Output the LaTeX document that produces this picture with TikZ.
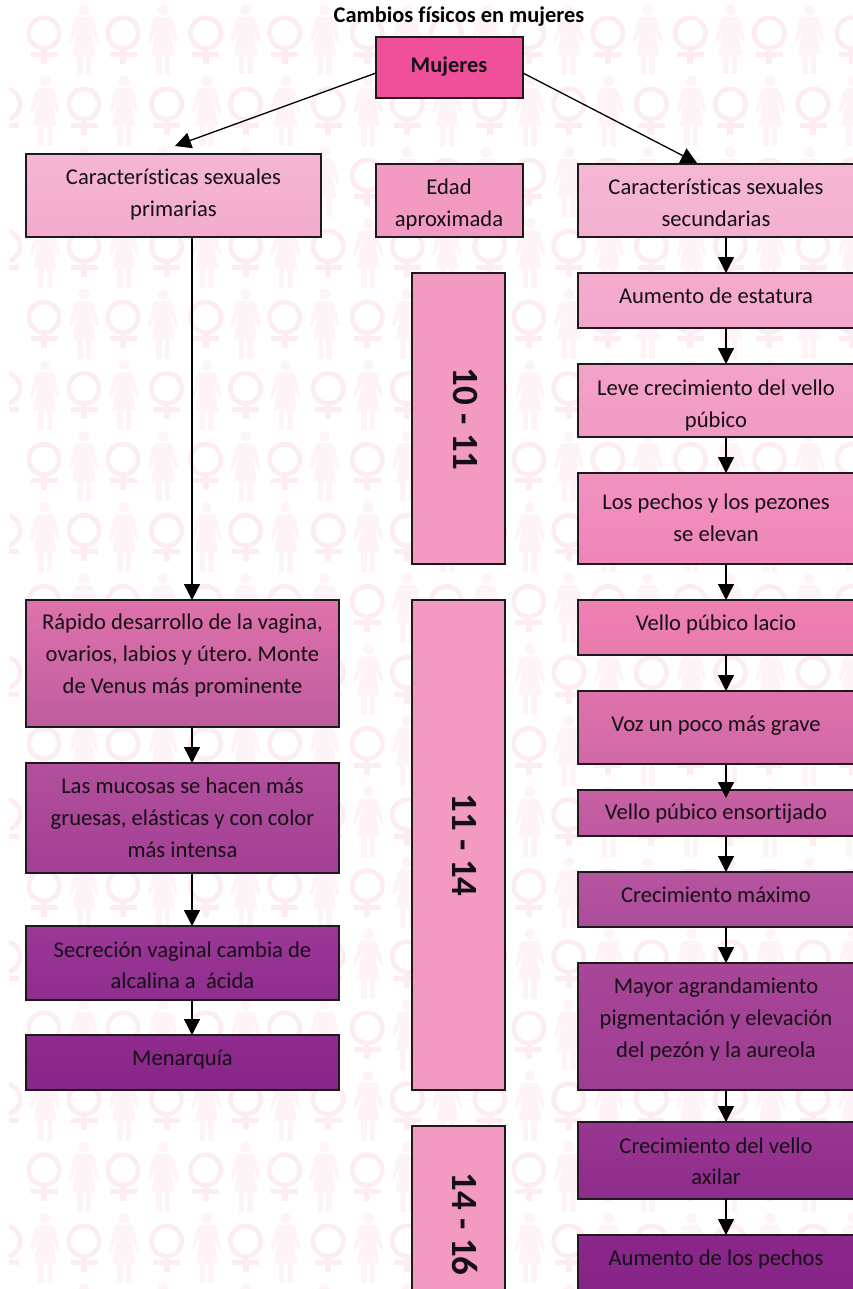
\documentclass[tikz,border=0pt]{standalone}
\usepackage{fontspec}
\setmainfont[Ligatures=NoCommon]{Carlito}
\usetikzlibrary{arrows.meta}
\definecolor{bgmark}{HTML}{FDECF1}
\definecolor{bgwoman}{HTML}{FEF3F6}
\definecolor{ink}{HTML}{151015}
\definecolor{edge}{HTML}{1C1A1C}
\definecolor{age}{HTML}{F29AC2}
\definecolor{c1}{HTML}{F0509A}
\newcommand{\venusmark}[2]{%
  \draw[bgmark,line width=4.6pt] (#1,#2) circle[radius=15.2pt];
  \fill[bgmark] (#1-3,#2+17) rectangle (#1+3,#2+31);
  \fill[bgmark] (#1-13.5,#2+19) rectangle (#1+13.5,#2+24);
}
\newcommand{\womanmark}[2]{%
  \fill[bgwoman] (#1,#2+10) circle[radius=5.4pt];
  \fill[bgwoman] (#1-7,#2+17) -- (#1+7,#2+17) -- (#1+10,#2+20) -- (#1+15,#2+41) -- (#1+12.5,#2+42) -- (#1+7,#2+29) -- (#1+11.5,#2+55) -- (#1-11.5,#2+55) -- (#1-7,#2+29) -- (#1-12.5,#2+42) -- (#1-15,#2+41) -- (#1-10,#2+20) -- cycle;
  \fill[bgwoman] (#1-7,#2+54) rectangle (#1-1.5,#2+75);
  \fill[bgwoman] (#1+1.5,#2+54) rectangle (#1+7,#2+75);
}
% name, x0, y0, x1, y1, top colour, bottom colour, text cx, text cy, text
\newcommand{\bx}[9]{%
  \definecolor{bxtop}{HTML}{#6}\definecolor{bxbot}{HTML}{#7}%
  \node[boxshape,top color=bxtop,bottom color=bxbot,minimum width={#4-#2},minimum height={#5-#3}] (#1) at ({(#2+#4)/2},{(#3+#5)/2}) {};
  \node[boxtext] (#1-t) at (#8,#9+1.5)
}
% name, x0, y0, x1, y1, text centre y, text
\newcommand{\agebox}[6]{%
  \node[boxshape,fill=age,minimum width={#4-#2},minimum height={#5-#3}] (#1) at ({(#2+#4)/2},{(#3+#5)/2}) {};
  \node[agetext] (#1-t) at (465,#6)
}
\tikzset{
  boxshape/.style={draw=edge,line width=1.2pt,inner sep=0pt,outer sep=0pt,shape=rectangle},
  boxtext/.style={inner sep=0pt,align=center,text=ink,font=\fontsize{22.6}{31.7}\selectfont\frenchspacing,execute at begin node=\strut,execute at end node=\strut},
  agetext/.style={inner sep=0pt,rotate=-90,text=ink,font=\fontsize{37}{40}\selectfont\bfseries},
  titletext/.style={inner sep=0pt,text=black,font=\fontsize{22.4}{25}\selectfont\bfseries},
  link/.style={draw=black,line width=1.3pt,-{Triangle[length=16pt,width=16pt]}},
}
\begin{document}
\begin{tikzpicture}[x=1pt,y=-1pt]
\useasboundingbox (0,0) rectangle (853,1289);
\fill[white] (0,0) rectangle (853,1289);
\begin{scope}
\clip (9,0) rectangle (853,1289);
\foreach \r in {0,2,...,18}{
  \pgfmathsetmacro{\yy}{71.06*\r}
  \foreach \k in {0,...,5}{
    \pgfmathsetmacro{\xa}{44+161.6*\k}\pgfmathsetmacro{\xb}{123+161.6*\k}
    \pgfmathsetmacro{\xc}{84+161.6*\k}\pgfmathsetmacro{\xd}{163+161.6*\k}
    \venusmark{\xa}{\yy+33}\venusmark{\xb}{\yy+33}
    \womanmark{\xc}{\yy}\womanmark{\xd}{\yy}
  }
}
\foreach \r in {1,3,...,17}{
  \pgfmathsetmacro{\yy}{71.06*\r}
  \foreach \k in {0,...,5}{
    \pgfmathsetmacro{\xa}{5+161.6*\k}\pgfmathsetmacro{\xb}{84+161.6*\k}
    \pgfmathsetmacro{\xc}{45+161.6*\k}\pgfmathsetmacro{\xd}{124+161.6*\k}
    \venusmark{\xa}{\yy+33}\venusmark{\xb}{\yy+33}
    \womanmark{\xc}{\yy}\womanmark{\xd}{\yy}
  }
}
\end{scope}

\node[titletext] (title) at (459,17) {Cambios físicos en mujeres};

\node[boxshape,fill=c1,minimum width=147pt,minimum height=61pt] (mu) at (449.5,67.5) {};
\node[titletext,text=ink] (mu-t) at (449,67) {Mujeres};

\bx{prim}{26}{154}{321}{237}{F5B7D3}{F3ABCD}{173.5}{196}{Características sexuales\\primarias};
\bx{edad}{376}{164}{523}{237}{F29AC2}{F29AC2}{449}{206}{Edad\\aproximada};
\bx{sec}{578}{164}{874}{237}{F5B7D3}{F4B0D0}{716}{206}{Características sexuales\\secundarias};

\agebox{a1}{412}{273}{505}{564}{419}{10 - 11};
\agebox{a2}{412}{600}{505}{1090}{845}{11 - 14};
\agebox{a3}{412}{1126}{505}{1300}{1224}{14 - 16};

\bx{r1}{578}{273}{874}{328}{F4ACCF}{F3A6CB}{716}{296}{Aumento de estatura};
\bx{r2}{578}{364}{874}{437}{F3A2C9}{F29AC4}{716}{407}{Leve crecimiento del vello\\púbico};
\bx{r3}{578}{473}{874}{564}{F192C0}{F085B8}{716}{521}{Los pechos y los pezones\\se elevan};
\bx{r4}{578}{600}{874}{655}{EF80B2}{E87AAE}{716}{623}{Vello púbico lacio};
\bx{r5}{578}{691}{874}{764}{DF72AA}{D068A7}{716}{724}{Voz un poco más grave};
\bx{r6}{578}{790}{874}{836}{C860A3}{BE58A0}{716}{812}{Vello púbico ensortijado};
\bx{r7}{578}{872}{874}{927}{B6549F}{AC4C9B}{716}{895}{Crecimiento máximo};
\bx{r8}{578}{963}{874}{1090}{A84698}{9E3C93}{716}{1021}{Mayor agrandamiento\\pigmentación y elevación\\del pezón y la aureola};
\bx{r9}{578}{1122}{874}{1199}{9A3692}{8E2C8C}{716}{1164.5}{Crecimiento del vello\\axilar};
\bx{r10}{578}{1235}{874}{1300}{8B2789}{862488}{716}{1258}{Aumento de los pechos};

\bx{l1}{26}{600}{339}{727}{DF72AA}{BE5CA0}{182.5}{657}{Rápido desarrollo de la vagina,\\ovarios, labios y útero. Monte\\de Venus más prominente};
\bx{l2}{26}{763}{339}{873}{B2509D}{A33F94}{182.5}{821}{Las mucosas se hacen más\\gruesas, elásticas y con color\\más intensa};
\bx{l3}{26}{926}{339}{1000}{9C3896}{8F2D8E}{182.5}{968.5}{Secreción vaginal cambia de\\alcalina a\ \ ácida};
\bx{l4}{26}{1035}{339}{1090}{8E2B8C}{88258A}{182.5}{1058}{Menarquía};

\coordinate (lx) at (192,0);
\coordinate (mw) at (376,73);
\coordinate (me) at (523,73);
\coordinate (pt) at (175,146);
\coordinate (st) at (697,163);
\coordinate (r6t) at (726,798);

\draw[link] (mw) -- (pt);
\draw[link] (me) -- (st);
\draw[link] (prim.south -| lx) -- (l1.north -| lx);
\draw[link] (l1.south -| lx) -- (l2.north -| lx);
\draw[link] (l2.south -| lx) -- (l3.north -| lx);
\draw[link] (l3.south -| lx) -- (l4.north -| lx);
\draw[link] (sec.south) -- (r1.north);
\draw[link] (r1.south) -- (r2.north);
\draw[link] (r2.south) -- (r3.north);
\draw[link] (r3.south) -- (r4.north);
\draw[link] (r4.south) -- (r5.north);
\draw[link] (r5.south) -- (r6t);
\draw[link] (r6.south) -- (r7.north);
\draw[link] (r7.south) -- (r8.north);
\draw[link] (r8.south) -- (r9.north);
\draw[link] (r9.south) -- (r10.north);
\end{tikzpicture}
\end{document}
